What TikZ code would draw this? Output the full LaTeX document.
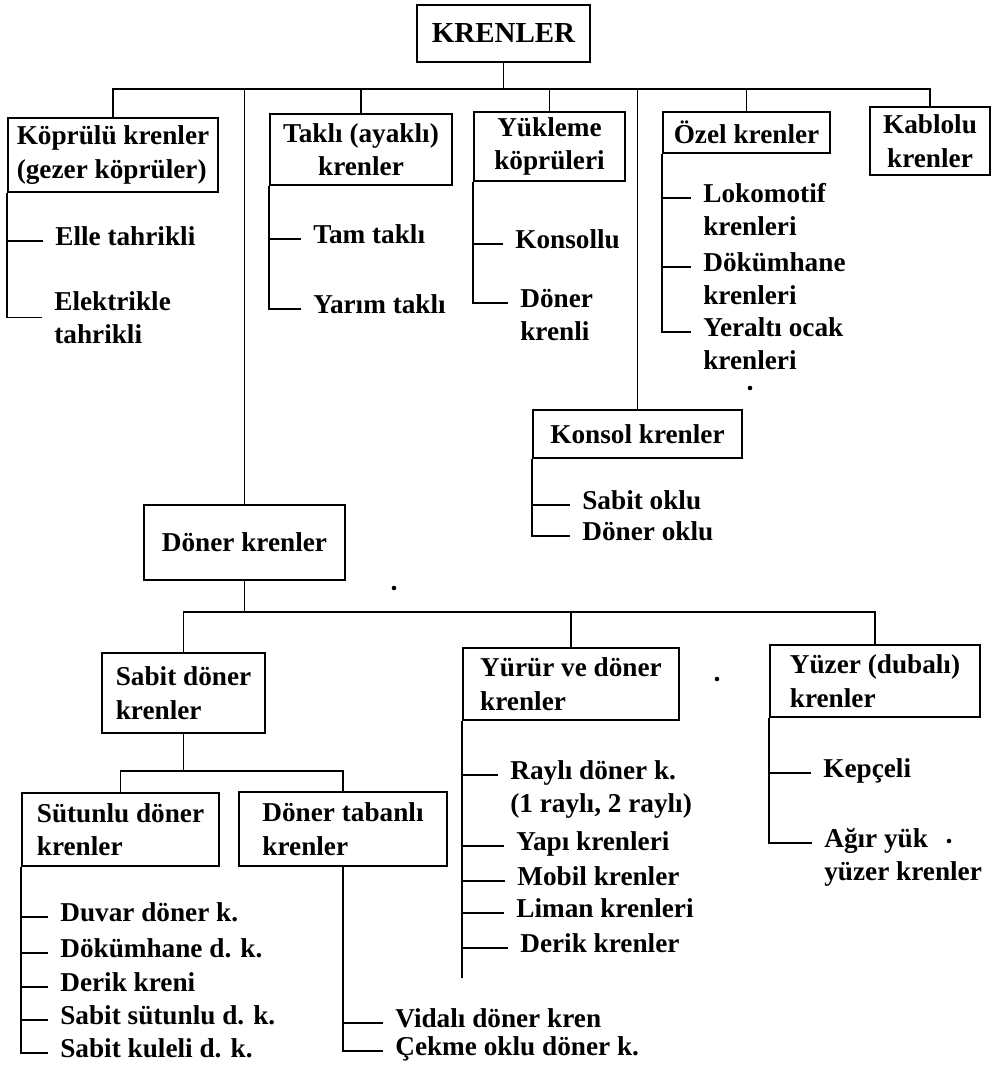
\documentclass[tikz,border=0pt]{standalone}
\usepackage{fontspec}
\setmainfont{Liberation Serif}
\usepackage{tikz}
\newcommand{\krfont}{\bfseries\fontsize{15.5}{19}\selectfont}
\tikzset{
	box/.style={
		draw,
		line width=1.1pt,
		align=center,
		inner sep=2pt,
		font=\krfont
	},
	leaf/.style={
		anchor=base west,
		align=left,
		inner xsep=0.24cm,
		inner ysep=0pt,
		font=\krfont
	}
}

\begin{document}
\begin{tikzpicture}[x=0.02cm, y=-0.02cm]
	\tikzset{branch/.style={line width=1pt}}
	\useasboundingbox (0,0) rectangle (995,1065);
	
	\node(root) at (503.5,33.5) [box, minimum width=3.46cm, minimum height=1.14cm, font=\bfseries\fontsize{16.5}{19}\selectfont] {KRENLER};
	
	\node(kopru) at (113,155) [box, align=left, minimum width=4.2cm, minimum height=1.48cm] {Köprülü krenler\\(gezer köprüler)};
	\node(takli) at (361,149.5) [box, minimum width=3.64cm, minimum height=1.42cm] {Taklı (ayaklı)\\krenler};
	\node(yukleme) at (549.5,146.5) [box, minimum width=3.02cm, minimum height=1.38cm] {Yükleme\\köprüleri};
	\node(ozel) at (746.5,132.5) [box, minimum width=3.34cm, minimum height=0.82cm] {Özel krenler};
	\node(kablolu) at (930,141) [box, minimum width=2.4cm, minimum height=1.36cm] {Kablolu\\krenler};
	
	\node(konsol) at (637.5,434) [box, minimum width=4.18cm, minimum height=0.96cm] {Konsol krenler};
	\node(doner) at (244.5,542.5) [box, minimum width=4.02cm, minimum height=1.5cm] {Döner krenler};
	
	\node(sabit) at (183.5,693) [box, align=left, minimum width=3.26cm, minimum height=1.6cm] {Sabit döner\\krenler};
	\node(yurur) at (571,684) [box, align=left, minimum width=4.32cm, minimum height=1.44cm] {Yürür ve döner\\krenler};
	\node(yuzer) at (875,681) [box, align=left, minimum width=4.2cm, minimum height=1.44cm] {Yüzer (dubalı)\\krenler};
	
	\node(sutunlu) at (120.5,829.5) [box, align=left, minimum width=3.94cm, minimum height=1.46cm] {Sütunlu döner\\krenler};
	\node(tabanli) at (343,829) [box, align=left, minimum width=4.16cm, minimum height=1.48cm] {Döner tabanlı\\krenler};
	
	% two-line leaves sit on the baseline of their last line
	\node(elle) at (43,245) [leaf] {Elle tahrikli};
	\node(elek) at (42,343.5) [leaf] {Elektrikle\\tahrikli};
	
	\node(tam) at (301,243) [leaf] {Tam taklı};
	\node(yarim) at (301,313) [leaf] {Yarım taklı};
	
	\node(konsollu) at (503,248) [leaf] {Konsollu};
	\node(dkrenli) at (508,340.5) [leaf] {Döner\\krenli};
	
	\node(lok) at (691,235.5) [leaf] {Lokomotif\\krenleri};
	\node(dokum) at (691,304.5) [leaf] {Dökümhane\\krenleri};
	\node(yeralti) at (691,369.5) [leaf] {Yeraltı ocak\\krenleri};
	
	\node(sabitok) at (570,509) [leaf] {Sabit oklu};
	\node(donerok) at (570,540) [leaf] {Döner oklu};
	
	\node(rayli) at (498,812.5) [leaf] {Raylı döner k.\\(1 raylı, 2 raylı)};
	\node(yapi) at (504,850) [leaf] {Yapı krenleri};
	\node(mobil) at (505,885) [leaf] {Mobil krenler};
	\node(liman) at (504,917) [leaf] {Liman krenleri};
	\node(derik) at (508,952) [leaf] {Derik krenler};
	\coordinate(yurur_end) at (463,978);
	
	\node(kepceli) at (811,777) [leaf] {Kepçeli};
	\node(agir) at (812,880.5) [leaf] {Ağır yük\\yüzer krenler};
	
	\node(duvar) at (48,921) [leaf] {Duvar döner k.};
	\node(dokumdk) at (48,957) [leaf] {Dökümhane d. k.};
	\node(derikk) at (48,991) [leaf] {Derik kreni};
	\node(sabsut) at (48,1024) [leaf] {Sabit sütunlu d. k.};
	\node(sabkul) at (48,1057) [leaf] {Sabit kuleli d. k.};
	
	\node(vidali) at (383,1027) [leaf] {Vidalı döner kren};
	\node(cekme) at (383,1055) [leaf] {Çekme oklu döner k.};
	
	\coordinate(bus1) at (503.5,89);
	\coordinate(bus2) at (0,612);
	\coordinate(bus3) at (0,771);
	
	\draw[branch] (root.south) -- (bus1);
	\draw[branch] (kopru.north) |- (bus1) -| (kablolu.north);
	\foreach \n in {takli, doner, yukleme, konsol, ozel}
		\draw[branch] (\n.north |- bus1) -- (\n.north);
	
	\draw[branch] (doner.south) -- (doner.south |- bus2);
	\draw[branch] (sabit.north) -- (sabit.north |- bus2) -- (yuzer.north |- bus2) -- (yuzer.north);
	\draw[branch] (yurur.north |- bus2) -- (yurur.north);
	
	\draw[branch] (sabit.south) -- (sabit.south |- bus3);
	\draw[branch] (sutunlu.north) -- (sutunlu.north |- bus3) -- (tabanli.north |- bus3) -- (tabanli.north);
	
	\draw[branch] (kopru.south west) |- (elle.mid west);
	\draw[branch] (kopru.south west) |- (elek.west);
	\foreach \n in {tam, yarim}
		\draw[branch] (takli.south west) |- (\n.mid west);
	\draw[branch] (yukleme.south west) |- (konsollu.mid west);
	\draw[branch] (yukleme.south west) |- ([yshift=19pt]dkrenli.mid west);
	\foreach \n in {lok, dokum, yeralti}
		\draw[branch] (ozel.south west) |- ([yshift=19pt]\n.mid west);
	\foreach \n in {sabitok, donerok}
		\draw[branch] (konsol.south west) |- (\n.mid west);
	
	\draw[branch] (yurur.south west) |- ([yshift=19pt]rayli.mid west);
	\foreach \n in {yapi, mobil, liman, derik}
		\draw[branch] (yurur.south west) |- (\n.mid west);
	\draw[branch] (yurur.south west) -- (yurur.south west |- yurur_end);
	\draw[branch] (yuzer.south west) |- (kepceli.mid west);
	\draw[branch] (yuzer.south west) |- ([yshift=19pt]agir.mid west);
	
	\foreach \n in {duvar, dokumdk, derikk, sabsut, sabkul}
		\draw[branch] (sutunlu.south west) |- (\n.mid west);
	\foreach \n in {vidali, cekme}
		\draw[branch] (tabanli.south) |- (\n.mid west);
	
	% stray dots of the print
	\fill (750,388) circle (1.3pt);
	\fill (394,588) circle (1.3pt);
	\fill (717,679) circle (1.3pt);
	\fill (949,841) circle (1.3pt);
	
\end{tikzpicture}
\end{document}
